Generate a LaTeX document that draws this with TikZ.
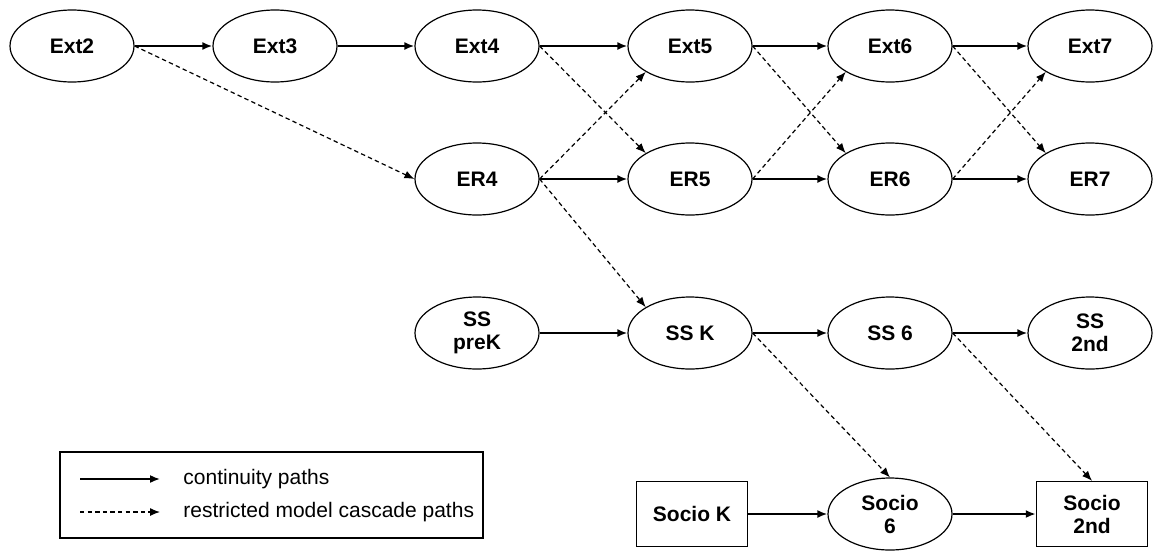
\documentclass[tikz,border=0pt]{standalone}
\usepackage{fontspec}
\setmainfont{Liberation Sans}
\usetikzlibrary{arrows.meta, shapes.geometric}

\begin{document}
\begin{tikzpicture}[x=0.5pt, y=-0.5pt,
	latent/.style={ellipse, draw, line width=0.6pt, minimum width=62pt, minimum height=36pt, inner sep=0pt, align=center, font=\bfseries\fontsize{10.5}{11.5}\selectfont},
	observed/.style={rectangle, draw, line width=0.7pt, minimum width=55.5pt, minimum height=32.5pt, inner sep=0pt, align=center, font=\bfseries\fontsize{10.5}{11.5}\selectfont},
	cont/.style={line width=1pt, -{Latex[length=5pt, width=4pt]}},
	casc/.style={line width=0.6pt, dash pattern=on 2.2pt off 1.6pt, -{Latex[length=5pt, width=4pt]}},
	legtext/.style={anchor=west, inner sep=0pt, font=\fontsize{10.5}{11.5}\selectfont}]

	\useasboundingbox (0,0) rectangle (1154,552);

	% externalizing row
	\node[latent] (ext2) at (72,46) {Ext2};
	\node[latent] (ext3) at (275,46) {Ext3};
	\node[latent] (ext4) at (477,46) {Ext4};
	\node[latent] (ext5) at (690,46) {Ext5};
	\node[latent] (ext6) at (890,46) {Ext6};
	\node[latent] (ext7) at (1090,46) {Ext7};

	% emotion regulation row
	\node[latent] (er4) at (477,179) {ER4};
	\node[latent] (er5) at (690,179) {ER5};
	\node[latent] (er6) at (890,179) {ER6};
	\node[latent] (er7) at (1090,179) {ER7};

	% social skills row
	\node[latent] (ss3) at (477,333) {SS\\preK};
	\node[latent] (ss4) at (690,333) {SS K};
	\node[latent] (ss5) at (890,333) {SS 6};
	\node[latent] (ss6) at (1090,333) {SS\\2nd};

	% socio row
	\node[observed] (socK) at (692,514) {Socio K};
	\node[latent] (soc6) at (890,514) {Socio\\6};
	\node[observed] (soc2) at (1092,514) {Socio\\2nd};

	% continuity paths
	\foreach \a/\b in {ext2/ext3, ext3/ext4, ext4/ext5, ext5/ext6, ext6/ext7,
		er4/er5, er5/er6, er6/er7, ss3/ss4, ss4/ss5, ss5/ss6, socK/soc6, soc6/soc2}
		\draw[cont] (\a.east) -- (\b.west);

	% cascade paths
	\draw[casc] (ext2.east) -- (er4.west);
	\foreach \a/\b in {ext4/er5, ext5/er6, ext6/er7, er4/ss4}
		\draw[casc] (\a.east) -- (\b.north west);
	\foreach \a/\b in {er4/ext5, er5/ext6, er6/ext7}
		\draw[casc] (\a.east) -- (\b.south west);
	\draw[casc] (ss4.east) -- (soc6.north);
	\draw[casc] (ss5.east) -- (soc2.north);

	% legend
	\draw[line width=0.7pt] (60,452) rectangle (483,538);
	\coordinate (l1a) at (80,479);
	\coordinate (l1b) at (160,479);
	\coordinate (l2a) at (80,512);
	\coordinate (l2b) at (160,512);
	\draw[cont, line width=0.8pt] (l1a) -- (l1b);
	\draw[casc] (l2a) -- (l2b);
	\node[legtext] (lt1) at (183,479) {continuity paths};
	\node[legtext] (lt2) at (183,512) {restricted model cascade paths};

\end{tikzpicture}
\end{document}
